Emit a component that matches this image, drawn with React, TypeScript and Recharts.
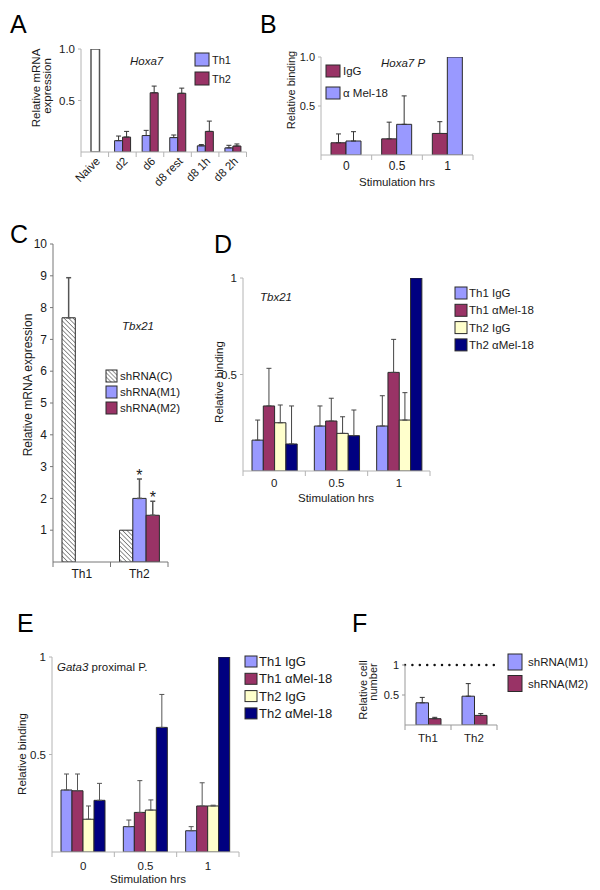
import { Bar, BarChart, ErrorBar, LabelList, ReferenceLine, XAxis, YAxis } from "recharts";
import type { ReactNode } from "react";

const FONT = '"Liberation Sans", Arial, Helvetica, sans-serif';
const LILAC = "#9999ff";
const PLUM = "#993366";
const CREAM = "#ffffcc";
const NAVY = "#000080";
const EDGE = "#2b2b2b";
const INK = "#1a1a1a";
const PALE = "#b4b4b4";

// A - Hoxa7 mRNA
const aCats = ["Naive", "d2", "d6", "d8 rest", "d8 1h", "d8 2h"];
const aNaive = [1.0, null, null, null, null, null];
const aTh1 = [null, 0.11, 0.16, 0.14, 0.06, 0.04];
const aTh1Err = [null, 0.045, 0.05, 0.025, 0.012, 0.025];
const aTh2 = [null, 0.145, 0.575, 0.57, 0.2, 0.058];
const aTh2Err = [null, 0.055, 0.065, 0.05, 0.1, 0.02];

// B - Hoxa7 P binding
const stimCats = ["0", "0.5", "1"];
const bIgG = [0.125, 0.165, 0.22];
const bIgGErr = [0.09, 0.17, 0.12];
const bMel = [0.143, 0.313, 1.0];
const bMelErr = [0.095, 0.29, 0];

// C - Tbx21 mRNA
const cCats = ["Th1", "Th2"];
const cCtrl = [7.68, 1.0];
const cCtrlErr = [1.26, 0];
const cM1 = [null, 2.0];
const cM1Err = [null, 0.61];
const cM2 = [null, 1.47];
const cM2Err = [null, 0.44];
const cTicks = [1, 2, 3, 4, 5, 6, 7, 8, 9, 10];

// D - Tbx21 binding
const dTh1IgG = [0.16, 0.233, 0.233];
const dTh1IgGErr = [0.104, 0.104, 0.157];
const dTh1Mel = [0.337, 0.259, 0.511];
const dTh1MelErr = [0.195, 0.118, 0.171];
const dTh2IgG = [0.25, 0.195, 0.264];
const dTh2IgGErr = [0.092, 0.086, 0.142];
const dTh2Mel = [0.14, 0.183, 1.0];
const dTh2MelErr = [0.197, 0.133, 0];

// E - Gata3 proximal P binding
const eTh1IgG = [0.318, 0.13, 0.109];
const eTh1IgGErr = [0.082, 0.034, 0.021];
const eTh1Mel = [0.314, 0.203, 0.236];
const eTh1MelErr = [0.086, 0.163, 0.119];
const eTh2IgG = [0.168, 0.215, 0.236];
const eTh2IgGErr = [0.068, 0.052, 0.004];
const eTh2Mel = [0.265, 0.639, 1.0];
const eTh2MelErr = [0.087, 0.169, 0];

// F - relative cell number
const fCats = ["Th1", "Th2"];
const fM1 = [0.37, 0.48];
const fM1Err = [0.09, 0.21];
const fM2 = [0.105, 0.16];
const fM2Err = [0.023, 0.03];

const unitTicks = [0.5, 1];

type Val = number | null;
type Series = { key: string; label: string; fill: string; values: Val[]; errs: Val[] };
type Plot = { x0: number; x1: number; y0: number; y1: number };

const aSeries: Series[] = [
    { key: "th1", label: "Th1", fill: LILAC, values: aTh1, errs: aTh1Err },
    { key: "th2", label: "Th2", fill: PLUM, values: aTh2, errs: aTh2Err },
];
const bSeries: Series[] = [
    { key: "igg", label: "IgG", fill: PLUM, values: bIgG, errs: bIgGErr },
    { key: "mel", label: "\u03b1 Mel-18", fill: LILAC, values: bMel, errs: bMelErr },
];
const dSeries: Series[] = [
    { key: "t1i", label: "Th1 IgG", fill: LILAC, values: dTh1IgG, errs: dTh1IgGErr },
    { key: "t1m", label: "Th1 \u03b1Mel-18", fill: PLUM, values: dTh1Mel, errs: dTh1MelErr },
    { key: "t2i", label: "Th2 IgG", fill: CREAM, values: dTh2IgG, errs: dTh2IgGErr },
    { key: "t2m", label: "Th2 \u03b1Mel-18", fill: NAVY, values: dTh2Mel, errs: dTh2MelErr },
];
const eSeries: Series[] = [
    { key: "t1i", label: "Th1 IgG", fill: LILAC, values: eTh1IgG, errs: eTh1IgGErr },
    { key: "t1m", label: "Th1 \u03b1Mel-18", fill: PLUM, values: eTh1Mel, errs: eTh1MelErr },
    { key: "t2i", label: "Th2 IgG", fill: CREAM, values: eTh2IgG, errs: eTh2IgGErr },
    { key: "t2m", label: "Th2 \u03b1Mel-18", fill: NAVY, values: eTh2Mel, errs: eTh2MelErr },
];
const fSeries: Series[] = [
    { key: "m1", label: "shRNA(M1)", fill: LILAC, values: fM1, errs: fM1Err },
    { key: "m2", label: "shRNA(M2)", fill: PLUM, values: fM2, errs: fM2Err },
];
const cKeys = [
    { label: "shRNA(C)", fill: "url(#hatchKey)" },
    { label: "shRNA(M1)", fill: LILAC },
    { label: "shRNA(M2)", fill: PLUM },
];

// only the upper whisker is drawn
function up(e: Val) {
    return e ? [0, e] : null;
}

function rows(cats: string[], series: Series[]) {
    return cats.map((cat, i) => {
        const r: Record<string, unknown> = { cat };
        for (const s of series) {
            r[s.key] = s.values[i];
            r[s.key + "Err"] = up(s.errs[i]);
        }
        return r;
    });
}

const aData = rows(aCats, aSeries).map((r, i) => ({ ...r, naive: aNaive[i] }));
const cData = cCats.map((cat, i) => ({
    cat,
    ctrl: cCtrl[i],
    ctrlErr: up(cCtrlErr[i]),
    m1: cM1[i],
    m1Err: up(cM1Err[i]),
    m1Star: cM1Err[i],
    m2: cM2[i],
    m2Err: up(cM2Err[i]),
    m2Star: cM2Err[i],
}));

const YW = 40;
const MT = 8;
const MR = 6;

function Shell({ plot, xh, data, children }: { plot: Plot; xh: number; data: unknown[]; children: ReactNode }) {
    const w = plot.x1 - plot.x0 + YW + MR;
    const h = plot.y1 - plot.y0 + MT + xh;
    return (
        <div style={{ position: "absolute", left: plot.x0 - YW, top: plot.y0 - MT }}>
            <BarChart width={w} height={h} data={data} margin={{ top: MT, right: MR, left: 0, bottom: 0 }} barGap={0}>
                {children}
            </BarChart>
        </div>
    );
}

// category label plus Excel-style tick marks between the categories
function CatTick(props: any) {
    const { x, y, payload, index, band, color, size, drop, slant } = props;
    const half = band / 2;
    const tx = slant ? x + 6 : x;
    const ty = y + drop;
    return (
        <g>
            {index === 0 && <line x1={x - half} x2={x - half} y1={y} y2={y + 5} stroke={color} />}
            <line x1={x + half} x2={x + half} y1={y} y2={y + 5} stroke={color} />
            <text
                x={tx}
                y={ty}
                transform={slant ? `rotate(-45 ${tx} ${ty})` : undefined}
                textAnchor={slant ? "end" : "middle"}
                fontSize={size}
                fontFamily={FONT}
                fill={INK}
            >
                {payload.value}
            </text>
        </g>
    );
}

function catAxis(p: Plot, n: number, o: { color: string; size: number; drop: number; xh: number; slant?: boolean }) {
    const band = (p.x1 - p.x0) / n;
    return (
        <XAxis
            dataKey="cat"
            height={o.xh}
            interval={0}
            tickLine={false}
            tickSize={0}
            tickMargin={0}
            axisLine={{ stroke: o.color }}
            tick={(t: any) => (
                <CatTick {...t} band={band} color={o.color} size={o.size} drop={o.drop} slant={o.slant} />
            )}
        />
    );
}

function valAxis(max: number, ticks: number[], fmt: (v: number) => string, color: string, size: number) {
    return (
        <YAxis
            width={YW}
            type="number"
            domain={[0, max]}
            allowDataOverflow
            ticks={ticks}
            tickFormatter={fmt}
            axisLine={{ stroke: color }}
            tickLine={{ stroke: color }}
            tickSize={3}
            tickMargin={3}
            tick={{ fontSize: size, fontFamily: FONT, fill: INK }}
        />
    );
}

function bars(series: Series[], size: number, errColor: string) {
    return series.map((s) => (
        <Bar key={s.key} dataKey={s.key} fill={s.fill} stroke={EDGE} strokeWidth={1} barSize={size} isAnimationActive={false}>
            <ErrorBar dataKey={s.key + "Err"} width={2.5} stroke={errColor} strokeWidth={1} direction="y" isAnimationActive={false} />
        </Bar>
    ));
}

function star(v: unknown) {
    const n = Array.isArray(v) ? v[v.length - 1] - v[0] : v;
    return n ? "*" : "";
}

function PanelA() {
    const p = { x0: 81, x1: 246.5, y0: 49, y1: 152 };
    return (
        <Shell plot={p} xh={42} data={aData}>
            {catAxis(p, aCats.length, { color: PALE, size: 11.5, drop: 10, xh: 42, slant: true })}
            <XAxis xAxisId="naive" dataKey="cat" hide />
            {valAxis(1, unitTicks, (v) => v.toFixed(1), PALE, 11.5)}
            <Bar xAxisId="naive" dataKey="naive" fill="#fff" stroke="#555" strokeWidth={1.5} barSize={8.5} isAnimationActive={false} />
            {bars(aSeries, 8, "#333")}
        </Shell>
    );
}

function PanelB() {
    const p = { x0: 321, x1: 473, y0: 57, y1: 155 };
    return (
        <Shell plot={p} xh={20} data={rows(stimCats, bSeries)}>
            {catAxis(p, stimCats.length, { color: PALE, size: 12, drop: 14.5, xh: 20 })}
            {valAxis(1, unitTicks, (v) => v.toFixed(1), PALE, 11)}
            {bars(bSeries, 15, "#333")}
        </Shell>
    );
}

function PanelC() {
    const p = { x0: 53, x1: 168, y0: 244, y1: 562 };
    return (
        <Shell plot={p} xh={22} data={cData}>
            {catAxis(p, cCats.length, { color: "#777", size: 12, drop: 16, xh: 22 })}
            {valAxis(10, cTicks, (v) => String(v), "#777", 12)}
            <Bar dataKey="ctrl" stackId="c" fill="url(#hatch)" stroke={EDGE} strokeWidth={1} barSize={13.3} isAnimationActive={false}>
                <ErrorBar dataKey="ctrlErr" width={2.5} stroke="#555" direction="y" isAnimationActive={false} />
            </Bar>
            <Bar dataKey="m1" stackId="m1" fill={LILAC} stroke={EDGE} strokeWidth={1} barSize={13.3} isAnimationActive={false}>
                <ErrorBar dataKey="m1Err" width={2.5} stroke="#555" direction="y" isAnimationActive={false} />
            </Bar>
            <Bar dataKey="m1Star" stackId="m1" fill="none" stroke="none" barSize={13.3} isAnimationActive={false}>
                <LabelList position="top" offset={-2} formatter={star} fill={INK} fontSize={16} fontFamily={FONT} />
            </Bar>
            <Bar dataKey="m2" stackId="m2" fill={PLUM} stroke={EDGE} strokeWidth={1} barSize={13.3} isAnimationActive={false}>
                <ErrorBar dataKey="m2Err" width={2.5} stroke="#555" direction="y" isAnimationActive={false} />
            </Bar>
            <Bar dataKey="m2Star" stackId="m2" fill="none" stroke="none" barSize={13.3} isAnimationActive={false}>
                <LabelList position="top" offset={-2} formatter={star} fill={INK} fontSize={16} fontFamily={FONT} />
            </Bar>
        </Shell>
    );
}

function PanelD() {
    const p = { x0: 243, x1: 430, y0: 278, y1: 471 };
    return (
        <Shell plot={p} xh={22} data={rows(stimCats, dSeries)}>
            {catAxis(p, stimCats.length, { color: PALE, size: 11.5, drop: 16, xh: 22 })}
            {valAxis(1, unitTicks, (v) => String(v), PALE, 11.5)}
            {bars(dSeries, 11.3, "#444")}
        </Shell>
    );
}

function PanelE() {
    const p = { x0: 52, x1: 239, y0: 657, y1: 852 };
    return (
        <Shell plot={p} xh={22} data={rows(stimCats, eSeries)}>
            {catAxis(p, stimCats.length, { color: PALE, size: 11.5, drop: 17.5, xh: 22 })}
            {valAxis(1, unitTicks, (v) => String(v), PALE, 11.5)}
            {bars(eSeries, 11, "#555")}
        </Shell>
    );
}

function PanelF() {
    const p = { x0: 405, x1: 497, y0: 665, y1: 725 };
    return (
        <Shell plot={p} xh={22} data={rows(fCats, fSeries)}>
            {catAxis(p, fCats.length, { color: "#999", size: 11.5, drop: 17, xh: 22 })}
            {valAxis(1, unitTicks, (v) => String(v), "#999", 11)}
            <ReferenceLine y={1} stroke="#111" strokeWidth={2.5} strokeDasharray="0 7.4" strokeLinecap="round" ifOverflow="visible" />
            {bars(fSeries, 12.5, "#333")}
        </Shell>
    );
}

type KeyItem = { label: string; fill: string };

function Key(props: { x: number; y: number; step: number; w: number; h: number; size: number; gap: number; items: KeyItem[] }) {
    const { x, y, step, w, h, size, gap, items } = props;
    return (
        <g fontFamily={FONT} fontSize={size}>
            {items.map((it, i) => (
                <g key={it.label}>
                    <rect x={x} y={y + i * step} width={w} height={h} fill={it.fill} stroke={EDGE} strokeWidth={1} />
                    <text x={x + w + gap} y={y + i * step + h / 2} dominantBaseline="central" fill={INK}>
                        {it.label}
                    </text>
                </g>
            ))}
        </g>
    );
}

function VText({ x, y, size, children }: { x: number; y: number; size: number; children: ReactNode }) {
    return (
        <text transform={`translate(${x} ${y}) rotate(-90)`} textAnchor="middle" fontSize={size} fontFamily={FONT} fill={INK}>
            {children}
        </text>
    );
}

function Overlay() {
    const letter = { fontSize: 25, fontFamily: FONT, fill: "#000" };
    const title = { fontSize: 11.5, fontFamily: FONT, fill: INK, fontStyle: "italic" as const };
    const xt = { fontSize: 11.5, fontFamily: FONT, fill: INK, textAnchor: "middle" as const };
    return (
        <svg width={600} height={890} style={{ position: "absolute", left: 0, top: 0, pointerEvents: "none" }}>
            <defs>
                <pattern id="hatch" width="3.2" height="3.2" patternUnits="userSpaceOnUse" patternTransform="rotate(-45)">
                    <rect width="3.2" height="3.2" fill="#fff" />
                    <line x1="0" y1="0" x2="0" y2="3.2" stroke="#3a3a3a" strokeWidth="1.1" />
                </pattern>
                <pattern id="hatchKey" width="3" height="3" patternUnits="userSpaceOnUse" patternTransform="rotate(-45)">
                    <rect width="3" height="3" fill="#fff" />
                    <line x1="0" y1="0" x2="0" y2="3" stroke="#3a3a3a" strokeWidth="1.1" />
                </pattern>
            </defs>

            <text x={10} y={33} {...letter}>A</text>
            <text x={260} y={33} {...letter}>B</text>
            <text x={10} y={243} {...letter}>C</text>
            <text x={214} y={253} {...letter}>D</text>
            <text x={17} y={632} {...letter}>E</text>
            <text x={352} y={632} {...letter}>F</text>

            <text x={130} y={65} {...title}>Hoxa7</text>
            <text x={381} y={67} {...title}>Hoxa7 P</text>
            <text x={122} y={330} {...title}>Tbx21</text>
            <text x={260} y={301} {...title}>Tbx21</text>
            <text x={57} y={671} fontSize={11.5} fontFamily={FONT} fill={INK}>
                <tspan fontStyle="italic">Gata3</tspan> proximal P.
            </text>

            <VText x={40} y={88} size={11.5}>Relative mRNA</VText>
            <VText x={51} y={86} size={11.5}>expression</VText>
            <VText x={295} y={90} size={11}>Relative binding</VText>
            <VText x={32} y={385} size={12}>Relative mRNA expression</VText>
            <VText x={223} y={382} size={11.5}>Relative binding</VText>
            <VText x={26} y={754} size={11.5}>Relative binding</VText>
            <VText x={367} y={690} size={11}>Relative cell</VText>
            <VText x={377} y={682} size={11}>number</VText>

            <text x={397} y={186} {...xt}>Stimulation hrs</text>
            <text x={336} y={502} {...xt}>Stimulation hrs</text>
            <text x={148} y={883} {...xt}>Stimulation hrs</text>

            <Key x={195} y={53} step={19} w={14} h={13} size={11} gap={3} items={aSeries} />
            <Key x={326} y={65} step={22} w={14} h={12} size={11.5} gap={3} items={bSeries} />
            <Key x={106} y={370} step={16} w={11} h={12} size={11.5} gap={3} items={cKeys} />
            <Key x={455} y={287} step={17.3} w={12} h={12} size={11.5} gap={2} items={dSeries} />
            <Key x={245} y={656} step={17.3} w={12} h={11} size={13} gap={2} items={eSeries} />
            <Key x={508} y={654} step={21.5} w={14} h={16} size={11.5} gap={6} items={fSeries} />
        </svg>
    );
}

export default function App() {
    return (
        <div
            style={{
                position: "absolute",
                left: 0,
                top: 0,
                width: 600,
                height: 890,
                background: "#fff",
                overflow: "hidden",
                fontFamily: FONT,
            }}
        >
            <PanelA />
            <PanelB />
            <PanelC />
            <PanelD />
            <PanelE />
            <PanelF />
            <Overlay />
        </div>
    );
}
